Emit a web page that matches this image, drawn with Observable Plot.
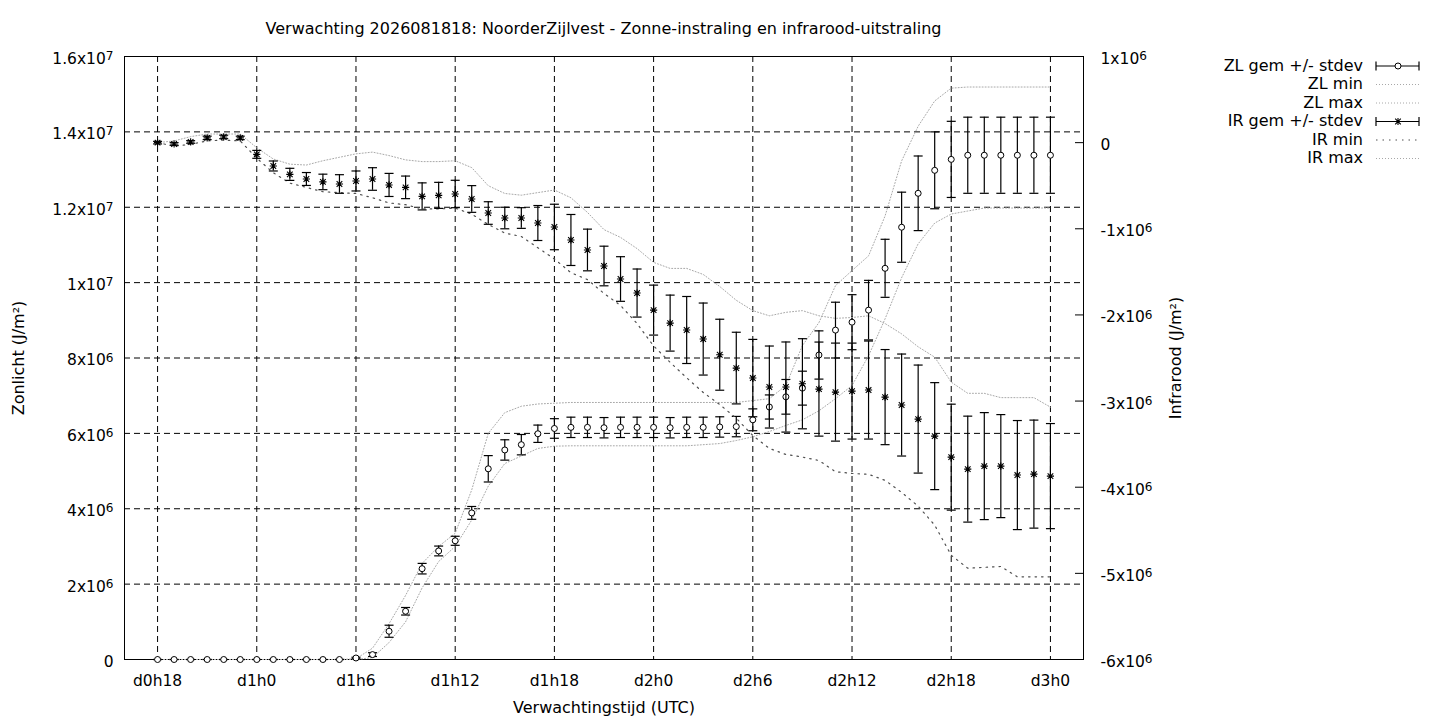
<!DOCTYPE html>
<html><head><meta charset="utf-8">
<script src="https://cdn.jsdelivr.net/npm/d3@7"></script>
<script src="https://cdn.jsdelivr.net/npm/@observablehq/plot@0.6"></script>
<style>
body{margin:0;background:#fff;font-family:"DejaVu Sans",sans-serif;}
#wrap{position:relative;width:1440px;height:720px;overflow:hidden;background:#fff;}
#title{position:absolute;left:0;top:20px;width:1207px;text-align:center;font-size:16px;line-height:18px;color:#000;}
#charts{position:absolute;left:0;top:44px;width:1440px;height:676px;}
#charts svg{position:absolute;left:0;top:0;}
.lg{position:absolute;left:1100px;width:263px;text-align:right;font-size:16px;line-height:18px;color:#000;}
#lgsvg{position:absolute;left:1370px;top:50px;}
</style></head><body>
<div id="wrap">
<div id="title">Verwachting 2026081818: NoorderZijlvest - Zonne-instraling en infrarood-uitstraling</div>
<div id="charts"></div>
</div>
<script>
// hours since d0h0 (d0h18 .. d3h0)
const hours = [18,19,20,21,22,23,24,25,26,27,28,29,30,31,32,33,34,35,36,37,38,39,40,41,42,43,44,45,46,47,48,49,50,51,52,53,54,55,56,57,58,59,60,61,62,63,64,65,66,67,68,69,70,71,72];
const xTicks = [18,24,30,36,42,48,54,60,66,72];
const xTickLabels = ["d0h18","d1h0","d1h6","d1h12","d1h18","d2h0","d2h6","d2h12","d2h18","d3h0"];
const zlTicks = [0,2,4,6,8,10,12,14,16];       // x10^6 J/m2
const irTicks = [-6,-5,-4,-3,-2,-1,0,1];        // x10^6 J/m2

// Zonlicht (x10^6 J/m2)
const zlMean = [0,0,0,0,0,0,0,0,0,0,0,0,
  0.04,0.13,0.75,1.28,2.41,2.88,3.15,3.89,5.06,5.56,5.70,5.99,6.13,
  6.16,6.16,6.15,6.16,6.16,6.16,6.15,6.16,6.16,6.17,6.18,
  6.36,6.70,6.97,7.20,8.08,8.74,8.95,9.27,10.38,11.47,12.37,12.98,13.27,
  13.38,13.38,13.38,13.38,13.38,13.38];
const zlSd = [0,0,0,0,0,0,0,0,0,0,0,0,
  0.02,0.05,0.16,0.10,0.14,0.13,0.12,0.17,0.35,0.27,0.27,0.23,0.26,
  0.27,0.27,0.27,0.27,0.27,0.27,0.27,0.27,0.27,0.27,0.27,
  0.29,0.32,0.46,0.45,0.64,0.74,0.73,0.79,0.77,0.93,0.99,1.02,1.01,
  1.01,1.01,1.01,1.01,1.01,1.01];
const zlMin = [0,0,0,0,0,0,0,0,0,0,0,0,0,
  0.05,0.45,1.0,1.9,2.6,3.0,3.7,4.6,5.2,5.4,5.6,5.66,
  5.67,5.67,5.67,5.67,5.67,5.67,5.67,5.67,
  5.70,5.73,5.81,5.91,6.05,6.21,6.36,6.60,6.92,7.27,8.06,9.04,10.13,11.03,11.58,11.82,
  11.90,11.98,11.98,11.98,11.98,11.98];
const zlMax = [0,0,0,0,0,0,0,0,0,0,0,0,
  0.02,0.30,0.95,1.70,2.55,3.00,3.35,4.50,6.00,6.55,6.72,6.78,6.80,
  6.82,6.82,6.82,6.82,6.82,6.82,6.82,6.82,6.82,6.82,6.82,
  6.87,6.92,7.27,8.33,8.94,9.92,10.32,10.71,11.77,13.23,14.15,14.82,15.16,
  15.19,15.19,15.19,15.19,15.19,15.19];

// Infrarood (x10^6 J/m2)
const irMean = [0.0,-0.015,0.008,0.055,0.066,0.055,-0.136,-0.271,-0.368,-0.422,
  -0.456,-0.48,-0.445,-0.422,-0.491,-0.519,-0.624,-0.612,-0.596,-0.654,
  -0.817,-0.875,-0.875,-0.933,-0.979,-1.13,-1.246,-1.432,-1.583,-1.746,
  -1.944,-2.095,-2.175,-2.28,-2.462,-2.617,-2.733,-2.837,-2.837,-2.799,
  -2.861,-2.896,-2.884,-2.872,-2.954,-3.046,-3.209,-3.407,-3.651,-3.79,
  -3.755,-3.755,-3.859,-3.848,-3.871];
const irSd = [0.015,0.015,0.015,0.02,0.02,0.02,0.046,0.058,0.07,0.075,
  0.09,0.108,0.116,0.131,0.134,0.131,0.157,0.151,0.159,0.155,
  0.131,0.125,0.12,0.203,0.264,0.296,0.242,0.23,0.259,0.279,
  0.29,0.325,0.389,0.418,0.412,0.416,0.449,0.476,0.523,0.523,
  0.546,0.569,0.557,0.569,0.552,0.592,0.627,0.621,0.615,0.615,
  0.621,0.598,0.633,0.627,0.61];
const irMin = [0.0,-0.04,-0.02,0.02,0.03,0.02,-0.18,-0.35,-0.47,-0.52,
  -0.57,-0.58,-0.59,-0.64,-0.7,-0.72,-0.77,-0.77,-0.76,-0.83,
  -0.95,-1.05,-1.09,-1.22,-1.35,-1.51,-1.59,-1.75,-1.89,-2.1,
  -2.36,-2.55,-2.73,-2.9,-3.04,-3.2,-3.4,-3.55,-3.62,-3.65,
  -3.69,-3.82,-3.84,-3.85,-3.92,-4.06,-4.22,-4.44,-4.79,-4.94,
  -4.93,-4.92,-5.04,-5.04,-5.04];
const irMax = [0.0,0.02,0.07,0.1,0.1,0.1,-0.06,-0.19,-0.25,-0.26,
  -0.21,-0.17,-0.13,-0.11,-0.15,-0.2,-0.22,-0.22,-0.21,-0.29,
  -0.5,-0.59,-0.61,-0.58,-0.55,-0.64,-0.81,-1.01,-1.1,-1.23,
  -1.39,-1.46,-1.46,-1.53,-1.67,-1.83,-1.95,-2.01,-1.97,-1.95,
  -2.01,-2.04,-2.03,-2.01,-2.1,-2.22,-2.37,-2.49,-2.78,-2.91,
  -2.91,-2.96,-2.96,-2.96,-3.07];

const legendLabels = ["ZL gem +/- stdev","ZL min","ZL max","IR gem +/- stdev","IR min","IR max"];

const rows = hours.map((h,i)=>({h, zl:zlMean[i], zlSd:zlSd[i], zlMin:zlMin[i], zlMax:zlMax[i],
  ir:irMean[i], irSd:irSd[i], irMin:irMin[i], irMax:irMax[i]}));

// "^" marks the exponent; it is turned into a raised tspan after rendering
const fmtZL = v => v === 0 ? "0" : (v >= 10 ? `${v/10}x10^7` : `${v}x10^6`);
const fmtIR = v => v === 0 ? "0" : `${v}x10^6`;

const cap = {draw(ctx, size){ const r = Math.sqrt(size/Math.PI); ctx.moveTo(-r,0); ctx.lineTo(r,0); }};
const star = {draw(ctx, size){ const r = Math.sqrt(size/Math.PI), d = r*0.78;
  ctx.moveTo(-r,0); ctx.lineTo(r,0); ctx.moveTo(0,-r); ctx.lineTo(0,r);
  ctx.moveTo(-d,-d); ctx.lineTo(d,d); ctx.moveTo(-d,d); ctx.lineTo(d,-d); }};

const common = {width:1440, height:676, marginLeft:124, marginRight:357, marginTop:12, marginBottom:61,
  style:{fontFamily:"DejaVu Sans", fontSize:"16px", background:"transparent", color:"black", overflow:"visible"}};
const grey = "#a8a8a8";
const dash = "6,4";
const tickFont = 15.5;

const p1 = Plot.plot({...common,
  x:{domain:[16,74]},
  y:{domain:[0,16]},
  marks:[
    Plot.gridX(xTicks, {stroke:"black", strokeOpacity:1, strokeDasharray:dash}),
    Plot.gridY(zlTicks.filter(v=>v>0 && v<16), {stroke:"black", strokeOpacity:1, strokeDasharray:dash}),
    Plot.frame({stroke:"black"}),
    Plot.axisX(xTicks, {tickSize:0, tickPadding:15, label:null, fontSize:tickFont, tickFormat:d=>xTickLabels[xTicks.indexOf(d)]}),
    Plot.axisY(zlTicks, {tickSize:0, tickPadding:11, dy:2.5, label:null, fontSize:tickFont, tickFormat:fmtZL}),
    Plot.text(["Zonlicht (J/m²)"], {text:d=>d, frameAnchor:"left", dx:-106, rotate:-90, textAnchor:"middle", lineAnchor:"middle"}),
    Plot.text(["Verwachtingstijd (UTC)"], {text:d=>d, frameAnchor:"bottom", dy:48, textAnchor:"middle", lineAnchor:"middle"}),
    Plot.line(rows, {x:"h", y:"zlMin", stroke:grey, strokeWidth:1, strokeDasharray:"1,2"}),
    Plot.line(rows, {x:"h", y:"zlMax", stroke:grey, strokeWidth:1, strokeDasharray:"1,2"}),
    Plot.ruleX(rows, {x:"h", y1:d=>d.zl-d.zlSd, y2:d=>d.zl+d.zlSd, stroke:"black", strokeWidth:1.2}),
    Plot.dot(rows, {x:"h", y:d=>d.zl-d.zlSd, symbol:cap, r:4.5, fill:"none", stroke:"black", strokeWidth:1.2}),
    Plot.dot(rows, {x:"h", y:d=>d.zl+d.zlSd, symbol:cap, r:4.5, fill:"none", stroke:"black", strokeWidth:1.2}),
    Plot.dot(rows, {x:"h", y:"zl", symbol:"circle", r:3, fill:"white", stroke:"black", strokeWidth:1})
  ]});

const p2 = Plot.plot({...common,
  x:{domain:[16,74], axis:null},
  y:{domain:[-6,1]},
  marks:[
    Plot.axisY(irTicks, {anchor:"right", tickSize:9, dx:-9, label:null, tickFormat:()=>"", stroke:"black"}),
    Plot.axisY(irTicks, {anchor:"right", tickSize:0, tickPadding:17, dy:2.5, label:null, fontSize:tickFont, tickFormat:fmtIR}),
    Plot.text(["Infrarood (J/m²)"], {text:d=>d, frameAnchor:"right", dx:92, rotate:-90, textAnchor:"middle", lineAnchor:"middle"}),
    Plot.line(rows, {x:"h", y:"irMin", stroke:"#505050", strokeWidth:1.2, strokeDasharray:"1.5,5"}),
    Plot.line(rows, {x:"h", y:"irMax", stroke:grey, strokeWidth:1, strokeDasharray:"1,2"}),
    Plot.ruleX(rows, {x:"h", y1:d=>d.ir-d.irSd, y2:d=>d.ir+d.irSd, stroke:"black", strokeWidth:1.2}),
    Plot.dot(rows, {x:"h", y:d=>d.ir-d.irSd, symbol:cap, r:4.5, fill:"none", stroke:"black", strokeWidth:1.2}),
    Plot.dot(rows, {x:"h", y:d=>d.ir+d.irSd, symbol:cap, r:4.5, fill:"none", stroke:"black", strokeWidth:1.2}),
    Plot.dot(rows, {x:"h", y:"ir", symbol:star, r:3.6, fill:"none", stroke:"black", strokeWidth:1.1})
  ]});

const ns = "http://www.w3.org/2000/svg";
function superscripts(svg) {
  svg.querySelectorAll("text").forEach(t => {
    const m = t.textContent.match(/^(.*x10)\^(\d)$/);
    if (m) {
      t.textContent = m[1];
      const ts = document.createElementNS(ns, "tspan");
      ts.setAttribute("dy", "-0.32em");
      ts.setAttribute("font-size", "0.78em");
      ts.textContent = m[2];
      t.appendChild(ts);
    }
  });
}
superscripts(p1); superscripts(p2);

const charts = document.getElementById("charts");
charts.appendChild(p1);
charts.appendChild(p2);

// legend
const wrap = document.getElementById("wrap");
const rowY = [66, 84.5, 103, 121.5, 140, 158.5];
legendLabels.forEach((t,i)=>{
  const d = document.createElement("div");
  d.className = "lg"; d.style.top = (rowY[i]-9.5)+"px"; d.textContent = t;
  wrap.appendChild(d);
});
const lg = d3.select(wrap).append("svg").attr("id","lgsvg").attr("width",60).attr("height",120);
const x0 = 6, x1 = 49, xc = 28, oy = 50;
const styles = [
  {type:"err", sym:"circle"},
  {type:"line", stroke:grey, dash:"1,2", w:1},
  {type:"line", stroke:grey, dash:"1,2", w:1},
  {type:"err", sym:"star"},
  {type:"line", stroke:"#505050", dash:"1.5,5", w:1.2},
  {type:"line", stroke:grey, dash:"1,2", w:1}
];
styles.forEach((s,i)=>{
  const y = rowY[i]-oy;
  if (s.type === "line") {
    lg.append("line").attr("x1",x0).attr("x2",x1).attr("y1",y).attr("y2",y)
      .attr("stroke",s.stroke).attr("stroke-width",s.w).attr("stroke-dasharray",s.dash);
  } else {
    lg.append("line").attr("x1",x0).attr("x2",x1).attr("y1",y).attr("y2",y).attr("stroke","black").attr("stroke-width",1.2);
    [x0,x1].forEach(xx=>lg.append("line").attr("x1",xx).attr("x2",xx).attr("y1",y-4.5).attr("y2",y+4.5).attr("stroke","black").attr("stroke-width",1.2));
    if (s.sym === "circle") {
      lg.append("circle").attr("cx",xc).attr("cy",y).attr("r",3).attr("fill","white").attr("stroke","black");
    } else {
      lg.append("path").attr("transform",`translate(${xc},${y})`).attr("d", d3.symbol(star, Math.PI*3.6*3.6)())
        .attr("fill","none").attr("stroke","black").attr("stroke-width",1.1);
    }
  }
});
</script>
</body></html>
